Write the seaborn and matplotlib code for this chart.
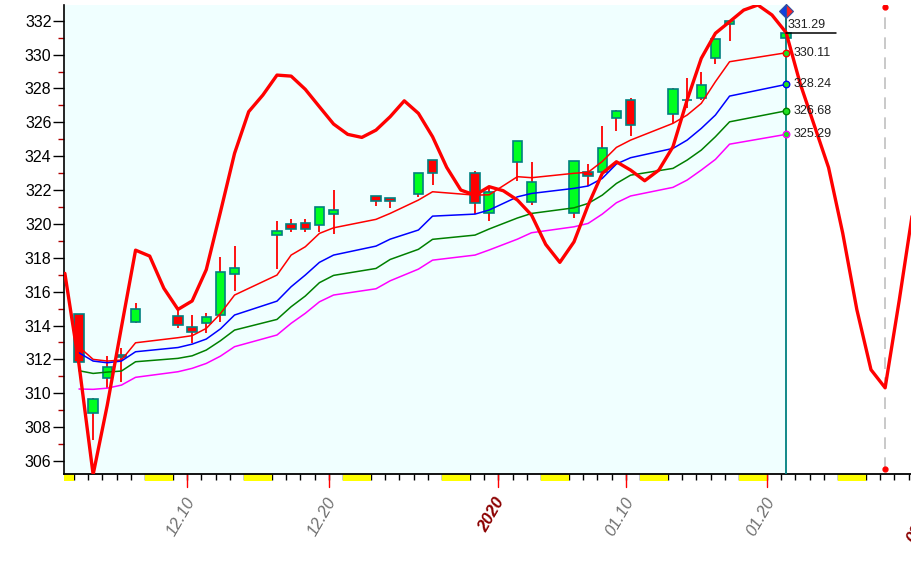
import numpy as np
import pandas as pd
import matplotlib
matplotlib.use("Agg")
import matplotlib.pyplot as plt
import matplotlib.transforms as mtransforms
from matplotlib.patches import Rectangle
import seaborn as sns

# trading sessions (OHLC)
days = ["2019-12-02", "2019-12-03", "2019-12-04", "2019-12-05", "2019-12-06",
        "2019-12-09", "2019-12-10", "2019-12-11", "2019-12-12", "2019-12-13",
        "2019-12-16", "2019-12-17", "2019-12-18", "2019-12-19", "2019-12-20",
        "2019-12-23", "2019-12-24", "2019-12-26", "2019-12-27", "2019-12-30",
        "2019-12-31", "2020-01-02", "2020-01-03", "2020-01-06", "2020-01-07",
        "2020-01-08", "2020-01-09", "2020-01-10", "2020-01-13", "2020-01-14",
        "2020-01-15", "2020-01-16", "2020-01-17", "2020-01-21"]
opens = [314.66, 308.81, 310.88, 312.28, 314.22, 314.56, 313.91, 314.16, 314.62, 317.02,
         319.32, 319.97, 320.03, 319.92, 320.56, 321.63, 321.51, 321.75, 323.75, 322.99,
         320.62, 323.64, 321.27, 320.62, 323.05, 323.05, 326.23, 327.30, 326.49, 327.30,
         327.42, 329.78, 331.79, 330.96]
highs = [314.70, 309.70, 312.19, 312.70, 315.31, 315.11, 314.62, 314.74, 318.04, 318.69,
         320.17, 320.29, 320.29, 321.00, 322.00, 321.65, 321.55, 323.00, 323.80, 323.12,
         322.14, 324.90, 323.65, 323.70, 323.54, 325.78, 326.75, 327.43, 328.00, 328.60,
         328.99, 330.95, 332.00, 332.50]
lows = [311.80, 307.23, 310.29, 310.68, 314.16, 313.87, 312.94, 313.54, 314.22, 316.05,
        317.32, 319.54, 319.54, 319.54, 319.40, 321.07, 320.95, 321.60, 322.30, 320.56,
        320.17, 322.55, 321.13, 320.36, 322.25, 323.00, 325.50, 325.19, 325.98, 326.83,
        327.32, 329.44, 330.82, 330.90]
closes = [311.82, 309.66, 311.53, 312.12, 314.95, 314.01, 313.63, 314.50, 317.17, 317.37,
          319.56, 319.68, 319.68, 320.98, 320.82, 321.33, 321.33, 322.99, 322.99, 321.21,
          321.90, 324.88, 322.45, 323.69, 322.81, 324.46, 326.65, 325.82, 327.95, 327.32,
          328.18, 330.90, 331.96, 331.29]

# band lines, one value per session
band_upper = [312.74, 312.00, 311.90, 311.96, 312.98, 313.28, 313.40, 313.83, 314.70, 315.80,
              316.98, 318.16, 318.65, 319.44, 319.77, 320.27, 320.62, 321.41, 321.90, 321.70,
              321.72, 322.79, 322.73, 322.99, 323.05, 323.69, 324.52, 324.95, 325.94, 326.43,
              327.12, 328.40, 329.58, 330.11]
band_mid = [312.39, 311.90, 311.80, 311.90, 312.45, 312.70, 312.90, 313.20, 313.80, 314.62,
            315.44, 316.29, 316.98, 317.73, 318.16, 318.69, 319.10, 319.64, 320.46, 320.58,
            320.82, 321.60, 321.80, 322.10, 322.24, 322.69, 323.54, 323.91, 324.46, 324.95,
            325.64, 326.43, 327.55, 328.24]
band_low = [311.33, 311.17, 311.25, 311.31, 311.86, 312.06, 312.21, 312.55, 313.10, 313.73,
            314.36, 315.11, 315.74, 316.53, 316.96, 317.37, 317.90, 318.50, 319.09, 319.34,
            319.70, 320.35, 320.62, 320.95, 321.21, 321.70, 322.39, 322.88, 323.28, 323.77,
            324.36, 325.15, 326.03, 326.68]
band_bottom = [310.25, 310.23, 310.30, 310.48, 310.94, 311.27, 311.47, 311.76, 312.19, 312.75,
               313.44, 314.13, 314.72, 315.40, 315.80, 316.17, 316.64, 317.33, 317.86, 318.16,
               318.46, 319.10, 319.48, 319.83, 320.03, 320.58, 321.25, 321.65, 322.16, 322.59,
               323.18, 323.81, 324.71, 325.29]

# thick red curve, one value per calendar day from 2019-12-01
curve = [317.08, 311.70, 305.20, 309.30, 313.90, 318.45, 318.10, 316.20, 314.95, 315.45,
         317.30, 320.70, 324.17, 326.63, 327.61, 328.79, 328.73, 327.95, 326.92, 325.90,
         325.29, 325.11, 325.54, 326.33, 327.27, 326.53, 325.15, 323.34, 322.00, 321.70,
         322.20, 321.96, 321.41, 320.52, 318.79, 317.73, 318.94, 321.11, 322.99, 323.67,
         323.18, 322.55, 323.18, 324.56, 327.32, 329.78, 331.26, 331.94, 332.63, 332.93,
         332.34, 331.30, 328.27, 325.80, 323.33, 319.46, 314.94, 311.39, 310.32, 315.50,
         321.00]

tick_dates = ["2019-12-10", "2019-12-20", "2020-01-01", "2020-01-10", "2020-01-20"]
tick_text = ["12.10", "12.20", "2020", "01.10", "01.20"]

base = pd.Timestamp("2019-12-01")
off = 0.34  # day tick sits left of the candle centre
t = np.array((pd.to_datetime(days) - base).days, dtype=float)
tc = np.arange(len(curve), dtype=float)
last_t = t[-1]
dash_t = float((pd.Timestamp("2020-01-28") - base).days)

sns.set_style("white")
plt.rcParams["font.family"] = ["Liberation Sans", "DejaVu Sans"]

fig = plt.figure(figsize=(9.12, 5.71), dpi=100)
ax = fig.add_axes([64 / 912, 97 / 571, 848 / 912, 469 / 571])
x0, x1 = -0.06, 59.9
ax.set_xlim(x0, x1)
ax.set_ylim(305.23, 332.93)
ax.set_facecolor("white")
ax.axvspan(x0 - 1, last_t, color="#F0FFFF", zorder=0, lw=0)

# candles
o = np.array(opens); c = np.array(closes)
ax.vlines(t, lows, highs, color="red", lw=1.3, zorder=2)
fills = np.where(c >= o, "#00FF20", "#FF0000")
ax.bar(t, np.maximum(np.abs(c - o), 0.04), bottom=np.minimum(o, c), width=0.66,
       color=fills, edgecolor="#008080", linewidth=1.2, zorder=2.5)

# bands
bands = pd.DataFrame({"t": np.tile(t, 4),
                      "value": band_upper + band_mid + band_low + band_bottom,
                      "band": np.repeat(["upper", "mid", "low", "bottom"], len(t))})
pal = {"upper": "#FF0000", "mid": "#0000FF", "low": "#008000", "bottom": "#FF00FF"}
sns.lineplot(data=bands, x="t", y="value", hue="band", palette=pal, lw=1.1,
             legend=False, ax=ax, zorder=3)

sns.lineplot(x=tc, y=curve, color="#FF0000", lw=2.4, ax=ax, zorder=4)

ax.axvline(last_t, color="#008080", lw=1.3, zorder=3.5)

for vals, name in [(band_upper, "upper"), (band_mid, "mid"), (band_low, "low"), (band_bottom, "bottom")]:
    ax.scatter([last_t], [vals[-1]], s=22, facecolor="#20E020", edgecolors=pal[name],
               linewidths=1, zorder=5)
    ax.text(last_t + 0.5, vals[-1], f"{vals[-1]:.2f}", fontsize=9, va="center",
            ha="left", color="#202020", zorder=6)

ax.plot([last_t, 54.5], [closes[-1], closes[-1]], color="black", lw=1.1, zorder=5)
ax.text(last_t + 0.1, closes[-1] + 0.12, f"{closes[-1]:.2f}", fontsize=9, va="bottom",
        ha="left", color="#202020", zorder=6)
ax.plot(last_t, 332.57, marker="D", ms=7, fillstyle="left", markerfacecolor="#1040E0",
        markerfacecoloralt="#FF2020", markeredgecolor="#3050A0", mew=0.8,
        clip_on=False, zorder=7)

ax.plot([dash_t, dash_t], [305.5, 332.8], color="#C0C0C0", lw=1.2, dashes=(7, 5), zorder=1)
ax.plot([dash_t, dash_t], [305.5, 332.8], "o", color="red", ms=3.5, zorder=5)

# y axis
ax.set_yticks(np.arange(306, 333, 2))
ax.set_yticks(np.arange(307, 332, 2), minor=True)
ax.tick_params(axis="y", which="major", length=8, width=1, color="black",
               labelsize=11.5, labelcolor="black", pad=1, direction="out", left=True)
ax.tick_params(axis="y", which="minor", length=4, width=1, color="#B00000", left=True)

# x axis: day ticks, weekend blocks, labelled ticks
ax.set_xticks([])
day_ticks = [d - off for d in range(0, 62) if x0 <= d - off <= x1]
ax.set_xticks(day_ticks, minor=True)
ax.tick_params(axis="x", which="minor", length=4, width=1, color="black", bottom=True)

trans = mtransforms.blended_transform_factory(ax.transData, ax.transAxes)
ah = 469.0
cal = pd.date_range("2019-11-30", "2020-02-01")
for d in cal[cal.dayofweek == 5]:
    s = (d - base).days - off
    a, b = max(s, x0), min(s + 2, x1)
    if b > a:
        ax.add_patch(Rectangle((a, -7 / ah), b - a, 7 / ah, transform=trans,
                               facecolor="#FFFF00", edgecolor="none", clip_on=False, zorder=1))

for dstr, lab in zip(tick_dates, tick_text):
    p = (pd.Timestamp(dstr) - base).days - off
    ax.plot([p, p], [0, -13 / ah], color="red", lw=1, transform=trans, clip_on=False)
    if lab == "2020":
        ax.text(p + 0.6, -21 / ah, lab, transform=trans, rotation=60, ha="right", va="top",
                fontsize=12, color="#8B0000", fontweight="bold", style="italic")
    else:
        ax.text(p + 0.75, -21 / ah, lab, transform=trans, rotation=60, ha="right", va="top",
                fontsize=12, color="#707070", style="italic")

# month label partly beyond the right edge, as in the source chart
fig.text(904 / 912, 26 / 571, "02", rotation=60, ha="left", va="bottom",
         fontsize=12, color="#8B0000", fontweight="bold", style="italic")

for side in ["top", "right"]:
    ax.spines[side].set_visible(False)
ax.spines["left"].set_color("black")
ax.spines["left"].set_linewidth(1.2)
ax.spines["bottom"].set_color("black")
ax.spines["bottom"].set_linewidth(1.3)
ax.set_xlabel("")
ax.set_ylabel("")

fig.savefig("out.png", dpi=100)
